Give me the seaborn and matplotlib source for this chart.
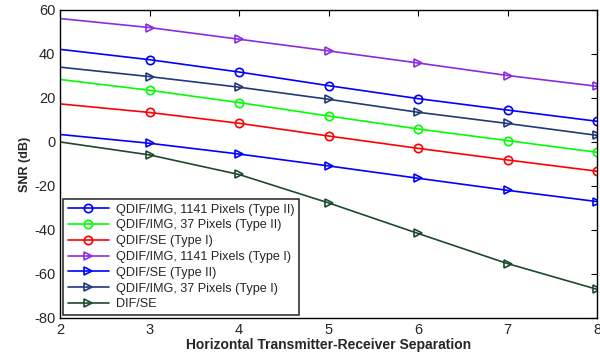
import matplotlib
matplotlib.use("Agg")
import matplotlib.pyplot as plt
import seaborn as sns
import pandas as pd

sns.set_style("white")
plt.rcParams['font.family'] = ['Liberation Sans', 'DejaVu Sans']
plt.rcParams['axes.unicode_minus'] = False

x = [2, 3, 4, 5, 6, 7, 8]
names = [
    "QDIF/IMG, 1141 Pixels (Type II)",
    "QDIF/IMG, 37 Pixels (Type II)",
    "QDIF/SE (Type I)",
    "QDIF/IMG, 1141 Pixels (Type I)",
    "QDIF/SE (Type II)",
    "QDIF/IMG, 37 Pixels (Type I)",
    "DIF/SE",
]
img1141_t2 = [42.1, 37.4, 31.8, 25.6, 19.7, 14.5, 9.4]
img37_t2 = [28.4, 23.5, 17.9, 11.8, 5.9, 0.6, -4.7]
se_t1 = [17.3, 13.4, 8.5, 2.7, -2.9, -8.2, -13.3]
img1141_t1 = [56.1, 52.0, 46.7, 41.4, 35.9, 30.2, 25.3]
se_t2 = [3.4, -0.6, -5.5, -10.9, -16.5, -22.0, -27.1]
img37_t1 = [34.0, 29.7, 24.9, 19.4, 13.5, 8.4, 3.0]
dif_se = [0.0, -5.9, -14.8, -27.7, -41.6, -55.3, -67.0]

series = [img1141_t2, img37_t2, se_t1, img1141_t1, se_t2, img37_t1, dif_se]
colors = ["#0000ff", "#00ff00", "#ff0000", "#8a2be2", "#0000ff", "#1f3a78", "#1e4a2c"]
markers = ["o", "o", "o", ">", ">", ">", ">"]

fig = plt.figure(figsize=(6, 3.56), dpi=100)
ax = fig.add_axes([0.1, 0.107, 0.895, 0.865])

for name, vals, c, m in zip(names, series, colors, markers):
    df = pd.DataFrame({"x": x, "y": vals})
    sns.lineplot(data=df, x="x", y="y", ax=ax, color=c, marker=m,
                 markersize=6, markerfacecolor="none", markeredgecolor=c,
                 markeredgewidth=1.2, linewidth=1.2, markevery=list(range(1, 7)),
                 label=name, legend=False)

ax.set_xlim(2, 8)
ax.set_ylim(-80, 60)
ax.set_xticks(x)
ax.set_yticks(range(-80, 61, 20))
ax.tick_params(direction="in", top=True, right=True, length=4, labelsize=10.5, color="black")
for s in ax.spines.values():
    s.set_color("black")
    s.set_linewidth(1.0)
ax.set_xlabel("Horizontal Transmitter-Receiver Separation", fontsize=10, fontweight="bold", labelpad=1)
ax.set_ylabel("SNR (dB)", fontsize=9, fontweight="bold", labelpad=2)

leg = ax.legend(loc="lower left", fontsize=9.1, handlelength=3.3, labelspacing=0.3,
                frameon=True, fancybox=False, edgecolor="black", borderpad=0.4,
                handletextpad=0.5, borderaxespad=0.2)
leg.get_frame().set_linewidth(1.2)

fig.savefig("out.png", dpi=100)
